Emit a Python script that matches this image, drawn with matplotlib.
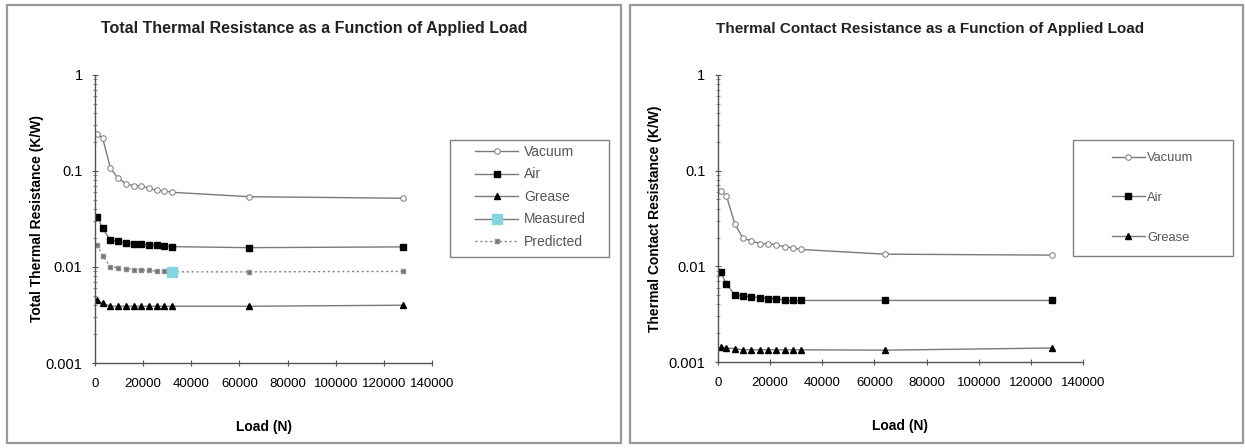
import matplotlib
matplotlib.use("Agg")
import matplotlib.pyplot as plt
from matplotlib.patches import Rectangle
from matplotlib.ticker import FixedLocator, LogLocator, NullFormatter

plt.rcParams['font.family'] = ['Liberation Sans', 'DejaVu Sans']

# Applied load (N)
loads = [1000, 3200, 6400, 9600, 12800, 16000, 19200, 22400, 25600, 28800, 32000, 64000, 128000]

# Total thermal resistance (K/W)
total_vacuum = [0.245, 0.22, 0.107, 0.084, 0.074, 0.070, 0.070, 0.066, 0.063, 0.062, 0.060, 0.054, 0.052]
total_air = [0.0334, 0.0253, 0.0190, 0.0185, 0.0178, 0.0175, 0.0172, 0.0170, 0.0168, 0.0165, 0.0163, 0.0159, 0.0162]
total_grease = [0.0045, 0.0042, 0.0039, 0.0039, 0.0039, 0.0039, 0.0039, 0.0039, 0.0039, 0.0039, 0.0039, 0.0039, 0.0040]
total_predicted = [0.0170, 0.0129, 0.0101, 0.0098, 0.0096, 0.0094, 0.0093, 0.0092, 0.0091, 0.0090, 0.0089, 0.0089, 0.0090]
measured_load = [32000]
measured_value = [0.0088]

# Thermal contact resistance (K/W)
contact_vacuum = [0.062, 0.055, 0.028, 0.0196, 0.0185, 0.0172, 0.0172, 0.0168, 0.0160, 0.0156, 0.0150, 0.0134, 0.0131]
contact_air = [0.0087, 0.0066, 0.0050, 0.0049, 0.0048, 0.0047, 0.0046, 0.0046, 0.0044, 0.0044, 0.0044, 0.0044, 0.0044]
contact_grease = [0.00145, 0.00140, 0.00138, 0.00134, 0.00134, 0.00134, 0.00134, 0.00134, 0.00134, 0.00134, 0.00134, 0.00133, 0.00140]

x_ticks = [0, 20000, 40000, 60000, 80000, 100000, 120000, 140000]
y_ticks = [0.001, 0.01, 0.1, 1]
y_tick_labels = ["0.001", "0.01", "0.1", "1"]

W, H = 1245, 448
fig = plt.figure(figsize=(W / 100, H / 100), dpi=100)


def fx(px):
    return px / W


def fy(py):
    return 1 - py / H


def frame(x0, y0, x1, y1, color, lw):
    fig.patches.append(Rectangle((fx(x0), fy(y1)), fx(x1 - x0), (y1 - y0) / H,
                                 transform=fig.transFigure, fill=False,
                                 edgecolor=color, linewidth=lw))


# panel frames
frame(7, 5, 621, 443, '#9a9a9a', 1.6)
frame(630, 5, 1243, 443, '#9a9a9a', 1.6)

LINE = '#7a7a7a'


def style_axes(ax, ylabel, ylabelpad):
    ax.set_yscale('log')
    ax.set_xlim(0, 140000)
    ax.set_ylim(0.001, 1)
    ax.xaxis.set_major_locator(FixedLocator(x_ticks))
    ax.set_xticklabels([str(t) for t in x_ticks], fontsize=9.5)
    ax.yaxis.set_major_locator(FixedLocator(y_ticks))
    ax.set_yticklabels(y_tick_labels, fontsize=10.5)
    ax.yaxis.set_minor_locator(LogLocator(base=10, subs=range(2, 10)))
    ax.yaxis.set_minor_formatter(NullFormatter())
    for s in ['top', 'right']:
        ax.spines[s].set_visible(False)
    for s in ['left', 'bottom']:
        ax.spines[s].set_color('#555555')
        ax.spines[s].set_linewidth(1.0)
    ax.tick_params(axis='x', which='major', direction='inout', length=5, color='#555555', pad=8)
    ax.tick_params(axis='y', which='major', direction='inout', length=5, color='#555555', pad=6.5)
    ax.tick_params(axis='y', which='minor', direction='inout', length=3, color='#777777')
    ax.set_ylabel(ylabel, fontsize=10, fontweight='bold', labelpad=ylabelpad)
    ax.set_xlabel('Load (N)', fontsize=10, fontweight='bold', labelpad=22)


# Left chart: total resistance
ax1 = fig.add_axes([fx(95), fy(363), fx(432 - 95), (363 - 75) / H])
h_vac, = ax1.plot(loads, total_vacuum, color=LINE, lw=1.0, marker='o', ms=4,
                  mfc='white', mec='#888888', mew=0.8, label='Vacuum')
h_air, = ax1.plot(loads, total_air, color=LINE, lw=1.0, marker='s', ms=4.5,
                  mfc='black', mec='black', label='Air')
h_gr, = ax1.plot(loads, total_grease, color=LINE, lw=1.0, marker='^', ms=4.5,
                 mfc='black', mec='black', label='Grease')
h_pred, = ax1.plot(loads, total_predicted, color='#808080', lw=1.0, ls=(0, (1.5, 2)),
                   marker='s', ms=2.5, mfc='#707070', mec='#909090', label='Predicted')
h_meas, = ax1.plot(measured_load, measured_value, color=LINE, lw=1.0, marker='s', ms=7,
                   mfc='#86d4df', mec='#86d4df', label='Measured')
style_axes(ax1, 'Total Thermal Resistance (K/W)', 1.5)
frame(450, 140, 609, 257, '#808080', 1.0)
ax1.legend(handles=[h_vac, h_air, h_gr, h_meas, h_pred],
           loc='upper left', bbox_to_anchor=(fx(475), fy(145)),
           bbox_transform=fig.transFigure, frameon=False,
           fontsize=10, labelspacing=0.61, handlelength=3.1,
           handletextpad=0.43, borderpad=0, borderaxespad=0,
           labelcolor='#555555')
fig.text(fx(314), fy(29), 'Total Thermal Resistance as a Function of Applied Load',
         ha='center', va='center', fontsize=11.5, fontweight='bold', color='#222222')

# Right chart: contact resistance
ax2 = fig.add_axes([fx(718), fy(362), fx(1083 - 718), (362 - 75) / H])
c_vac, = ax2.plot(loads, contact_vacuum, color=LINE, lw=1.0, marker='o', ms=4,
                  mfc='white', mec='#888888', mew=0.8, label='Vacuum')
c_air, = ax2.plot(loads, contact_air, color=LINE, lw=1.0, marker='s', ms=4.5,
                  mfc='black', mec='black', label='Air')
c_gr, = ax2.plot(loads, contact_grease, color=LINE, lw=1.0, marker='^', ms=4.5,
                 mfc='black', mec='black', label='Grease')
style_axes(ax2, 'Thermal Contact Resistance (K/W)', 5)
frame(1073, 140, 1233, 256, '#808080', 1.0)
ax2.legend(handles=[c_vac, c_air, c_gr],
           loc='upper left', bbox_to_anchor=(fx(1112), fy(152)),
           bbox_transform=fig.transFigure, frameon=False,
           fontsize=9.3, labelspacing=2.15, handlelength=2.55,
           handletextpad=0.15, borderpad=0, borderaxespad=0,
           labelcolor='#555555')
fig.text(fx(930), fy(29), 'Thermal Contact Resistance as a Function of Applied Load',
         ha='center', va='center', fontsize=11, fontweight='bold', color='#222222')

fig.savefig('out.png', dpi=100)
